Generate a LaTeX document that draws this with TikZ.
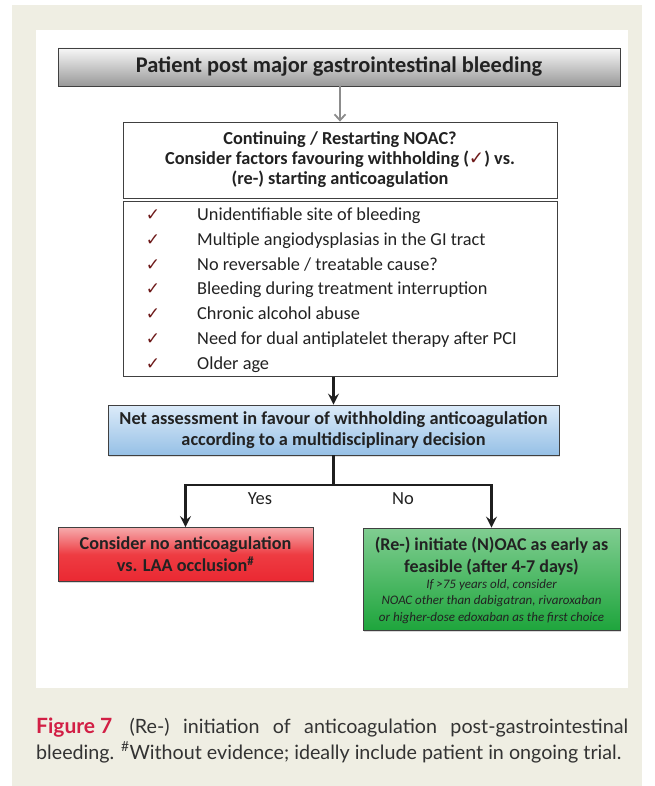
\documentclass[tikz,border=0pt]{standalone}
\usepackage{fontspec}
\setmainfont{Carlito}
\newfontfamily\capfont{Lato}
\newfontfamily\symfont{DejaVu Sans}
\usetikzlibrary{arrows.meta,shadows,calc}
\definecolor{beige}{HTML}{EFEEE3}
\definecolor{checkred}{HTML}{6E1A1A}
\definecolor{figred}{HTML}{D21F45}
\definecolor{boxtext}{HTML}{222222}
\definecolor{captext}{HTML}{333333}
\definecolor{bluetop}{RGB}{220,235,249}
\definecolor{bluebot}{RGB}{150,192,230}
\definecolor{redtop}{RGB}{246,170,172}
\definecolor{redmid}{RGB}{238,60,66}
\definecolor{redbot}{RGB}{234,40,50}
\definecolor{greentop}{RGB}{128,205,145}
\definecolor{greenbot}{RGB}{30,165,60}
\newcommand{\chk}{{\symfont\color{checkred}\char"2713}}
\tikzset{
  basebox/.style={draw=black!75, line width=0.8pt, inner sep=0pt, align=center, text=boxtext},
  titlebox/.style={basebox, top color=black!3, bottom color=black!40, minimum width=562pt, minimum height=38pt,
     font=\fontsize{22.4}{26}\selectfont\bfseries, drop shadow={shadow xshift=1pt,shadow yshift=-1.5pt,opacity=0.25}},
  whitebox/.style={basebox, fill=white, minimum width=434pt},
  bluebox/.style={basebox, top color=bluetop, bottom color=bluebot, minimum width=451pt, minimum height=50pt,
     font=\fontsize{18.3}{21}\selectfont\bfseries, drop shadow={shadow xshift=1pt,shadow yshift=-1.5pt,opacity=0.25}},
  redbox/.style={basebox, top color=redtop, bottom color=redbot, middle color=redmid, minimum width=255pt, minimum height=54pt,
     font=\fontsize{18.2}{22}\selectfont\bfseries, drop shadow={shadow xshift=1pt,shadow yshift=-1.5pt,opacity=0.3}},
  greenbox/.style={basebox, top color=greentop, bottom color=greenbot, minimum width=257pt, minimum height=102pt,
     drop shadow={shadow xshift=1pt,shadow yshift=-1.5pt,opacity=0.3}},
  item/.style={anchor=base west, inner sep=0pt, font=\fontsize{18.3}{20}\selectfont, text=boxtext},
  chkmark/.style={anchor=base, inner sep=0pt, font=\fontsize{17}{19}\selectfont},
  arr/.style={line width=2.4pt, black!88, -{Stealth[length=11pt,width=11pt,inset=4pt]}},
  plainline/.style={line width=2.4pt, black!88},
  grayarr/.style={line width=2pt, black!45, -{Straight Barb[length=6pt,width=11pt,line width=1.8pt]}},
  lbl/.style={inner sep=0pt, font=\fontsize{18.5}{20}\selectfont, text=boxtext},
}
\begin{document}
\begin{tikzpicture}[x=1pt,y=-1pt]
\useasboundingbox (0,0) rectangle (654,786);
\fill[white] (0,0) rectangle (654,786);
\fill[beige] (12,5) rectangle (642,786);
\fill[white] (36,30) rectangle (628,688);

\node[titlebox] (title) at (339,67) {Patient post major gastrointestinal bleeding};

\node[whitebox, minimum height=76pt, font=\fontsize{18.3}{20}\selectfont\bfseries] (q) at (340,160)
  {Continuing / Restarting NOAC?\\Consider factors favouring withholding (\chk) vs.\\(re-) starting anticoagulation};

\node[whitebox, minimum height=175pt] (list) at (340,289) {};
\foreach \i/\t in {1/{Unidentifiable site of bleeding},
                   2/{Multiple angiodysplasias in the GI tract},
                   3/{No reversable / treatable cause?},
                   4/{Bleeding during treatment interruption},
                   5/{Chronic alcohol abuse},
                   6/{Need for dual antiplatelet therapy after PCI},
                   7/{Older age}}{
  \node[chkmark] (c\i) at (153,{220.5+(\i-1)*24.8}) {\chk};
  \node[item] (t\i) at (197,{220.5+(\i-1)*24.8}) {\t};
}

\node[bluebox] (net) at (333.5,430)
  {Net assessment in favour of withholding anticoagulation\\according to a multidisciplinary decision};

\node[redbox] (no) at (185.5,554.5)
  {Consider no anticoagulation\\vs. LAA occlusion\textsuperscript{\#}};

\node[greenbox] (yes) at (491.5,579) {};
\node[inner sep=0pt, align=center, text=boxtext, font=\fontsize{18}{22}\selectfont\bfseries] (g1) at (491.5,556)
  {(Re-) initiate (N)OAC as early as\\feasible (after 4-7 days)};
\node[inner sep=0pt, align=center, text=boxtext, font=\fontsize{13}{16.8}\selectfont\itshape] (g2) at (491.5,601.5)
  {If >75 years old, consider\\NOAC other than dabigatran, rivaroxaban\\or higher-dose edoxaban as the first choice};

\draw[grayarr] (title.south -| q.north) -- (q.north);
\draw[arr] (list.south -| net.north) -- (net.north);
\coordinate (branch) at (333.5,485);
\draw[plainline] (net.south) -- (branch);
\draw[arr] (branch) -| (no.north);
\draw[arr] (branch) -| (yes.north);
\node[lbl] (ylab) at (260,499) {Yes};
\node[lbl] (nlab) at (403,499) {No};

\node[anchor=base west, inner sep=0pt, font=\capfont\fontsize{19.7}{24}\selectfont, text=captext] (cap1) at (36,733.5)
  {\makebox[592pt][s]{\mbox{\color{figred}\bfseries\fontsize{21}{24}\selectfont Figure~7}\hspace{4pt} (Re-) initiation of anticoagulation post-gastrointestinal}};
\node[anchor=base west, inner sep=0pt, font=\capfont\fontsize{19.7}{24}\selectfont, text=captext] (cap2) at (36,759.5)
  {bleeding. \textsuperscript{\#}Without evidence; ideally include patient in ongoing trial.};
\end{tikzpicture}
\end{document}
